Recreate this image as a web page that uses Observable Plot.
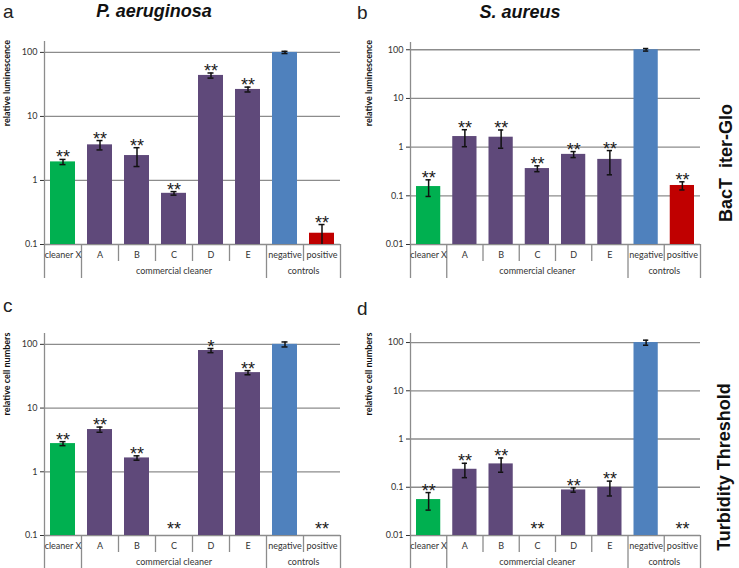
<!DOCTYPE html>
<html><head><meta charset="utf-8">
<script src="https://cdn.jsdelivr.net/npm/d3@7"></script>
<script src="https://cdn.jsdelivr.net/npm/@observablehq/plot@0.6"></script>
<style>
body{margin:0;background:#fff;}
#root{position:relative;width:739px;height:568px;overflow:hidden;background:#fff;font-family:"Liberation Sans",Arial,sans-serif;}
.abs{position:absolute;white-space:pre;}
</style></head><body><div id="root"></div>
<script>
// ---------- data ----------
const categories = ["cleaner X", "A", "B", "C", "D", "E", "negative", "positive"];
const groupNames = ["", "commercial cleaner", "controls"];
const groupSizes = [1, 5, 2];

const lumPaMean = [1.95, 3.6, 2.45, 0.63, 43.7, 26.4, 100, 0.15];
const lumPaErr  = [0.18, 0.6, 0.8, 0.04, 4, 2.3, 4, 0.055];
const lumPaSig  = ["**", "**", "**", "**", "**", "**", "", "**"];

const lumSaMean = [0.155, 1.65, 1.6, 0.363, 0.71, 0.56, 100, 0.163];
const lumSaErr  = [0.058, 0.63, 0.65, 0.05, 0.1, 0.29, 6, 0.031];
const lumSaSig  = ["**", "**", "**", "**", "**", "**", "", "**"];

const cellPaMean = [2.77, 4.6, 1.65, null, 80, 36, 100, null];
const cellPaErr  = [0.2, 0.43, 0.13, null, 6, 2.7, 9, null];
const cellPaSig  = ["**", "**", "**", "**", "*", "**", "", "**"];

const cellSaMean = [0.0556, 0.236, 0.305, null, 0.088, 0.1, 100, null];
const cellSaErr  = [0.022, 0.078, 0.1, null, 0.009, 0.034, 12, null];
const cellSaSig  = ["**", "**", "**", "**", "**", "**", "", "**"];

const ticksPa = [0.1, 1, 10, 100];
const ticksSa = [0.01, 0.1, 1, 10, 100];

// ---------- style ----------
const barColors = ["#00B050", "#5F497A", "#5F497A", "#5F497A", "#5F497A", "#5F497A", "#4F81BD", "#C00000"];
const gridColor = "#8c8c8c";
const labelColor = "#333";
const root = document.getElementById("root");

function place(el, left, top) {
  el.style.position = "absolute";
  el.style.left = left + "px";
  el.style.top = top + "px";
  el.style.overflow = "visible";
  root.appendChild(el);
}

function panel(cfg) {
  const ymin = cfg.ticks[0];
  const rows = categories.map((c, i) => {
    const v = cfg.mean[i], e = cfg.err[i];
    const has = v != null;
    return {i, cat: c, v, has,
      lo: has ? Math.max(v - e, ymin) : null,
      hi: has ? v + e : ymin,
      sig: cfg.sig[i]};
  });
  const withBar = rows.filter(d => d.has);
  const noBar = rows.filter(d => !d.has);
  const starStyle = {fontFamily: "Liberation Sans, Arial, sans-serif", fontSize: 18, fill: "#1a1a1a", lineAnchor: "bottom"};
  const h = cfg.baseline - cfg.top + 1;
  const main = Plot.plot({
    width: cfg.width, height: h,
    marginLeft: cfg.ml, marginRight: cfg.mr, marginTop: cfg.mt, marginBottom: 1,
    style: {background: "transparent", fontFamily: "Lato, sans-serif", fontSize: "9px", color: labelColor},
    x: {domain: [0, categories.length], axis: null},
    y: {type: "log", domain: [ymin, cfg.ymax], ticks: cfg.ticks, tickFormat: d => String(d),
        tickSize: 4, tickPadding: 3, label: null},
    color: {domain: categories, range: barColors},
    marks: [
      Plot.ruleY(cfg.ticks, {y: d => d, stroke: gridColor, strokeWidth: 1.3}),
      Plot.ruleX([0], {stroke: gridColor, strokeWidth: 1.3}),
      Plot.rectY(withBar, {x1: d => d.i, x2: d => d.i + 1, y1: () => ymin, y2: "v", fill: "cat",
        insetLeft: 6, insetRight: 6}),
      Plot.ruleX(withBar, {x: d => d.i + 0.5, y1: "lo", y2: "hi", stroke: "#111", strokeWidth: 1.5}),
      Plot.ruleY(withBar, {y: "hi", x1: d => d.i, x2: d => d.i + 1, insetLeft: 15.5, insetRight: 15.5, stroke: "#111", strokeWidth: 1.5}),
      Plot.ruleY(withBar.filter(d => d.lo > ymin), {y: "lo", x1: d => d.i, x2: d => d.i + 1, insetLeft: 15.5, insetRight: 15.5, stroke: "#111", strokeWidth: 1.5}),
      Plot.text(withBar, {x: d => d.i + 0.5, y: "hi", text: "sig", dy: 4, ...starStyle}),
      Plot.text(noBar, {x: d => d.i + 0.5, y: "hi", text: "sig", dy: -1, ...starStyle})
    ]
  });
  place(main, cfg.left, cfg.top);

  // two-level category axis
  const edges = d3.range(categories.length + 1).map(x => ({x, depth: 1}));
  const groups = [];
  let s = 0;
  groupNames.forEach((g, k) => { groups.push({name: g, start: s, end: s + groupSizes[k]}); s += groupSizes[k]; });
  groups.forEach(g => { edges[g.start].depth = 2; edges[g.end].depth = 2; });
  const axis = Plot.plot({
    width: cfg.width, height: 40,
    marginLeft: cfg.ml, marginRight: cfg.mr, marginTop: 0, marginBottom: 0,
    style: {background: "transparent", fontFamily: "Lato, sans-serif", fontSize: "9px", color: labelColor},
    x: {domain: [0, categories.length], axis: null},
    y: {domain: [0, 2], range: [0, 34], axis: null},
    marks: [
      Plot.ruleX(edges, {x: "x", y1: 0, y2: "depth", stroke: gridColor, strokeWidth: 1.3}),
      Plot.text(categories, {x: (d, i) => i + 0.5, y: 0.5, dy: 2, text: d => d, fill: labelColor}),
      Plot.text(groups, {x: d => (d.start + d.end) / 2, y: 1.5, dy: 1.5, text: "name", fill: labelColor})
    ]
  });
  place(axis, cfg.left, cfg.baseline);
}

panel({mean: lumPaMean, err: lumPaErr, sig: lumPaSig, ticks: ticksPa,
  left: 0, width: 370, ml: 44, mr: 30, top: 30, mt: 11, baseline: 244, ymax: 148});
panel({mean: lumSaMean, err: lumSaErr, sig: lumSaSig, ticks: ticksSa,
  left: 370, width: 369, ml: 40, mr: 39, top: 30, mt: 12, baseline: 244, ymax: 141});
panel({mean: cellPaMean, err: cellPaErr, sig: cellPaSig, ticks: ticksPa,
  left: 0, width: 370, ml: 44, mr: 30, top: 320, mt: 13, baseline: 535, ymax: 148});
panel({mean: cellSaMean, err: cellSaErr, sig: cellSaSig, ticks: ticksSa,
  left: 370, width: 369, ml: 40, mr: 39, top: 320, mt: 13, baseline: 535, ymax: 154});

// ---------- text ----------
function hlabel(text, cx, baseline, size, css, width) {
  const d = document.createElement("div");
  d.className = "abs";
  d.textContent = text;
  const w = width || 300;
  d.style.cssText += `left:${cx - w / 2}px;top:${baseline - 0.8465 * size}px;width:${w}px;` +
    `font-size:${size}px;line-height:${size}px;text-align:center;` + css;
  root.appendChild(d);
}
function letter(text, left, baseline, size) {
  const d = document.createElement("div");
  d.className = "abs";
  d.textContent = text;
  d.style.cssText += `left:${left}px;top:${baseline - 0.8465 * size}px;font-size:${size}px;line-height:${size}px;color:#222;`;
  root.appendChild(d);
}
function vlabel(text, cx, cy, css) {
  const d = document.createElement("div");
  d.className = "abs";
  d.textContent = text;
  d.style.cssText += `left:${cx - 150}px;top:${cy - 12}px;width:300px;height:24px;line-height:24px;` +
    `text-align:center;transform:rotate(-90deg);` + css;
  root.appendChild(d);
}

hlabel("P. aeruginosa", 154, 17, 18, "font-weight:bold;font-style:italic;color:#111;");
hlabel("S. aureus", 520, 18, 18, "font-weight:bold;font-style:italic;color:#111;");
letter("a", 3, 18, 19);
letter("b", 357, 19, 19);
letter("c", 3, 312, 19);
letter("d", 357, 315, 19);

const yTitleCss = "font-family:Lato,sans-serif;font-weight:bold;font-size:9px;color:#111;";
vlabel("relative luminescence", 7, 83, yTitleCss);
vlabel("relative luminescence", 369, 83, yTitleCss);
vlabel("relative cell numbers", 7, 374, yTitleCss);
vlabel("relative cell numbers", 369, 374, yTitleCss);

const sideCss = "font-family:'Liberation Sans',Arial,sans-serif;font-weight:bold;font-size:18px;color:#111;";
vlabel("BacT iter-Glo", 726, 163, sideCss + "word-spacing:5px;");
vlabel("Turbidity Threshold", 724, 467, sideCss);
</script>
</body></html>
